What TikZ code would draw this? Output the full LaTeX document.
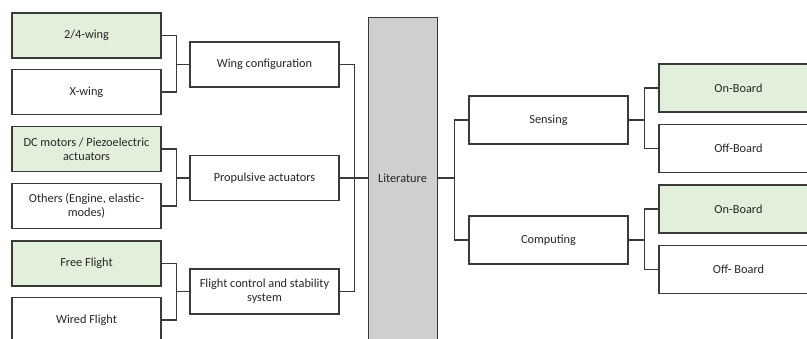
\documentclass[tikz,border=0pt]{standalone}
\usepackage{fontspec}
\setmainfont{Carlito}
\usetikzlibrary{calc}
\definecolor{boxgreen}{HTML}{E2EFDA}
\definecolor{litgray}{HTML}{D0CECE}
\definecolor{linecol}{HTML}{3A3A3A}
\begin{document}
\begin{tikzpicture}[x=1pt,y=-1pt,
  box/.style={draw=linecol,line width=1.2pt,fill=white,minimum width=149pt,minimum height=45pt,inner sep=2pt,align=center,
    font=\fontsize{12.3}{14}\selectfont,text=black!85},
  gbox/.style={box,fill=boxgreen},
  rbox/.style={box,minimum width=159pt,minimum height=48pt},
  rgbox/.style={rbox,fill=boxgreen},
  conn/.style={draw=linecol,line width=1.2pt}]
\useasboundingbox (0,0) rectangle (807,338);
\clip (0,0) rectangle (807,338);
% left column
\node[gbox] (a1) at (86.5,35.5) {2/4-wing};
\node[box]  (a2) at (86.5,92) {X-wing};
\node[gbox] (b1) at (86.5,149) {DC motors / Piezoelectric\\actuators};
\node[box]  (b2) at (86.5,206) {Others (Engine, elastic-\\modes)};
\node[gbox] (c1) at (86.5,263.5) {Free Flight};
\node[box]  (c2) at (86.5,320) {Wired Flight};
% middle column
\node[box] (A) at (264.5,64.5) {Wing configuration};
\node[box] (B) at (264.5,178) {Propulsive actuators};
\node[box] (C) at (264.5,291.5) {Flight control and stability\\system};
% literature
\node[draw=linecol,line width=1.2pt,fill=litgray,minimum width=69pt,minimum height=340pt,anchor=north west,inner sep=0pt] (Lit) at (368,17) {};
\node[font=\fontsize{12.3}{14}\selectfont,text=black!85] (LitT) at (402.5,178) {Literature};
% right side
\node[rbox] (S) at (548.5,120) {Sensing};
\node[rbox] (P) at (548.5,240) {Computing};
\node[rgbox] (S1) at (738.5,88) {On-Board};
\node[rbox]  (S2) at (738.5,148.5) {Off-Board};
\node[rgbox] (P1) at (738.5,209) {On-Board};
\node[rbox]  (P2) at (738.5,269.5) {Off- Board};
% connectors left
\draw[conn] (a1.east) -- ++(14.5,0) |- (A.west);
\draw[conn] (a2.east) -- ++(14.5,0) |- (A.west);
\draw[conn] (b1.east) -- ++(14.5,0) |- (B.west);
\draw[conn] (b2.east) -- ++(14.5,0) |- (B.west);
\draw[conn] (c1.east) -- ++(14.5,0) |- (C.west);
\draw[conn] (c2.east) -- ++(14.5,0) |- (C.west);
% middle to literature
\draw[conn] (A.east) -- ++(15,0) |- (C.east);
\draw[conn] (B.east) -- (B.east -| Lit.west);
% literature to right
\coordinate (litout) at (Lit.east |- B.east);
\draw[conn] (litout) -- ++(16,0) |- (S.west);
\draw[conn] (litout) -- ++(16,0) |- (P.west);
\draw[conn] (S.east) -- ++(15.5,0) |- (S1.west);
\draw[conn] (S.east) -- ++(15.5,0) |- (S2.west);
\draw[conn] (P.east) -- ++(15.5,0) |- (P1.west);
\draw[conn] (P.east) -- ++(15.5,0) |- (P2.west);
\end{tikzpicture}
\end{document}
